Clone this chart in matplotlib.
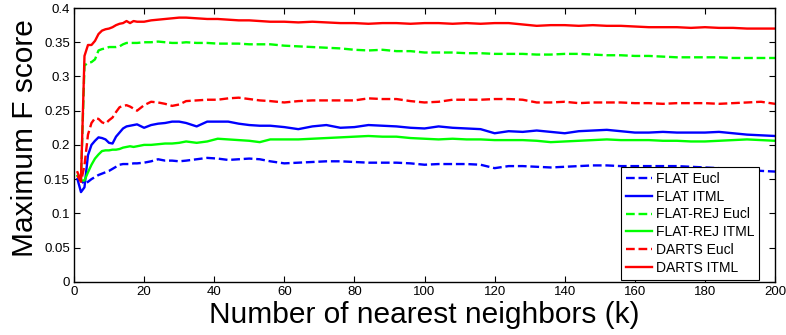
import matplotlib
matplotlib.use("Agg")
import matplotlib.pyplot as plt
from matplotlib.ticker import FuncFormatter, MultipleLocator

# number of nearest neighbors
k = [1, 2, 3, 4, 5, 6, 7, 8, 9, 10, 11, 12, 13, 14, 15, 16, 17, 18, 20, 22, 24, 26, 28, 30,
     32, 35, 38, 41, 44, 47, 50, 53, 56, 60, 64, 68, 72, 76, 80, 84, 88, 92, 96, 100,
     104, 108, 112, 116, 120, 124, 128, 132, 136, 140, 144, 148, 152, 156, 160, 164,
     168, 172, 176, 180, 184, 188, 192, 196, 200]

flat_eucl = [.153, .148, .143, .146, .150, .153, .156, .158, .160, .162, .165, .168, .171, .172,
             .172, .172, .173, .173, .174, .176, .179, .177, .177, .176, .177, .179, .181, .180,
             .178, .179, .180, .179, .176, .173, .174, .175, .176, .176, .175, .174, .174, .174,
             .173, .171, .172, .172, .172, .171, .166, .169, .169, .168, .167, .168, .169, .170,
             .170, .169, .169, .169, .169, .169, .168, .167, .166, .165, .163, .162, .161]

flat_itml = [.150, .131, .138, .185, .200, .206, .211, .210, .208, .203, .202, .212, .218, .224,
             .227, .228, .229, .230, .225, .229, .231, .232, .234, .234, .232, .227, .234, .234,
             .234, .231, .229, .228, .228, .226, .223, .227, .229, .225, .226, .229, .228, .227,
             .225, .224, .227, .225, .224, .223, .217, .220, .219, .221, .219, .217, .220, .221,
             .222, .220, .218, .218, .219, .218, .218, .218, .219, .217, .215, .214, .213]

rej_eucl = [.155, .150, .316, .320, .321, .325, .338, .340, .341, .343, .343, .343, .344, .347,
            .349, .349, .349, .349, .350, .350, .351, .350, .349, .349, .350, .349, .349, .348,
            .348, .348, .347, .347, .347, .345, .344, .343, .342, .341, .339, .338, .339, .337,
            .337, .335, .335, .335, .334, .334, .333, .333, .333, .332, .332, .333, .333, .332,
            .331, .331, .330, .330, .329, .328, .328, .328, .328, .327, .327, .327, .327]

rej_itml = [.155, .148, .148, .160, .171, .180, .186, .191, .192, .192, .193, .193, .194, .196,
            .197, .198, .197, .198, .200, .200, .201, .202, .202, .203, .205, .203, .205, .209,
            .208, .207, .206, .204, .208, .208, .208, .209, .210, .211, .212, .213, .212, .212,
            .210, .209, .208, .209, .208, .208, .207, .207, .207, .206, .204, .205, .206, .207,
            .208, .207, .207, .207, .206, .206, .205, .205, .206, .207, .208, .207, .206]

darts_eucl = [.155, .146, .170, .215, .232, .239, .238, .233, .231, .236, .240, .248, .255, .257,
              .258, .256, .253, .250, .258, .263, .262, .260, .257, .259, .264, .265, .266, .266,
              .268, .269, .267, .265, .264, .262, .264, .265, .265, .265, .265, .268, .267, .267,
              .264, .262, .263, .266, .266, .266, .267, .267, .266, .262, .262, .263, .261, .262,
              .262, .262, .261, .261, .260, .261, .261, .261, .260, .261, .262, .263, .260]

darts_itml = [.160, .148, .330, .346, .346, .352, .362, .367, .369, .370, .372, .375, .377, .378,
              .381, .378, .381, .380, .380, .382, .383, .384, .385, .386, .386, .385, .384, .384,
              .383, .382, .382, .381, .380, .380, .379, .380, .379, .378, .378, .377, .378, .378,
              .377, .378, .378, .377, .378, .377, .378, .378, .376, .374, .375, .375, .374, .375,
              .374, .374, .373, .372, .372, .372, .371, .372, .371, .371, .370, .370, .370]

labels = ["FLAT Eucl", "FLAT ITML", "FLAT-REJ Eucl", "FLAT-REJ ITML", "DARTS Eucl", "DARTS ITML"]

plt.rcParams['font.family'] = ['Liberation Sans', 'DejaVu Sans']

fig = plt.figure(figsize=(7.86, 3.35), dpi=100)
ax = fig.add_axes([0.0941, 0.159, 0.892, 0.817])

lw = 1.7
ax.plot(k, flat_eucl, '--', color='#0000FF', lw=lw, label=labels[0])
ax.plot(k, flat_itml, '-', color='#0000FF', lw=lw, label=labels[1])
ax.plot(k, rej_eucl, '--', color='#00FF00', lw=lw, label=labels[2])
ax.plot(k, rej_itml, '-', color='#00FF00', lw=lw, label=labels[3])
ax.plot(k, darts_eucl, '--', color='#FF0000', lw=lw, label=labels[4])
ax.plot(k, darts_itml, '-', color='#FF0000', lw=lw, label=labels[5])

ax.set_xlim(0, 200)
ax.set_ylim(0, 0.4)
ax.xaxis.set_major_locator(MultipleLocator(20))
ax.yaxis.set_major_locator(MultipleLocator(0.05))
ax.yaxis.set_major_formatter(FuncFormatter(lambda v, p: '%g' % round(v, 2)))
ax.tick_params(direction='in', length=4, width=0.8, top=True, right=True,
               labelsize=9.5, pad=3)
for s in ax.spines.values():
    s.set_linewidth(1.0)

ax.set_xlabel("Number of nearest neighbors (k)", fontsize=21.5, labelpad=2)
ax.set_ylabel("Maximum F score", fontsize=21.5)
ax.yaxis.set_label_coords(-0.05, 0.525)

leg = ax.legend(loc='lower right', bbox_to_anchor=(0.977, 0.008), fontsize=10,
                frameon=True, fancybox=False, framealpha=1, edgecolor='black',
                handlelength=1.9, handletextpad=0.25, labelspacing=0.27,
                borderpad=0.35, borderaxespad=0)
leg.get_frame().set_linewidth(0.8)

fig.savefig("out.png", dpi=100)
